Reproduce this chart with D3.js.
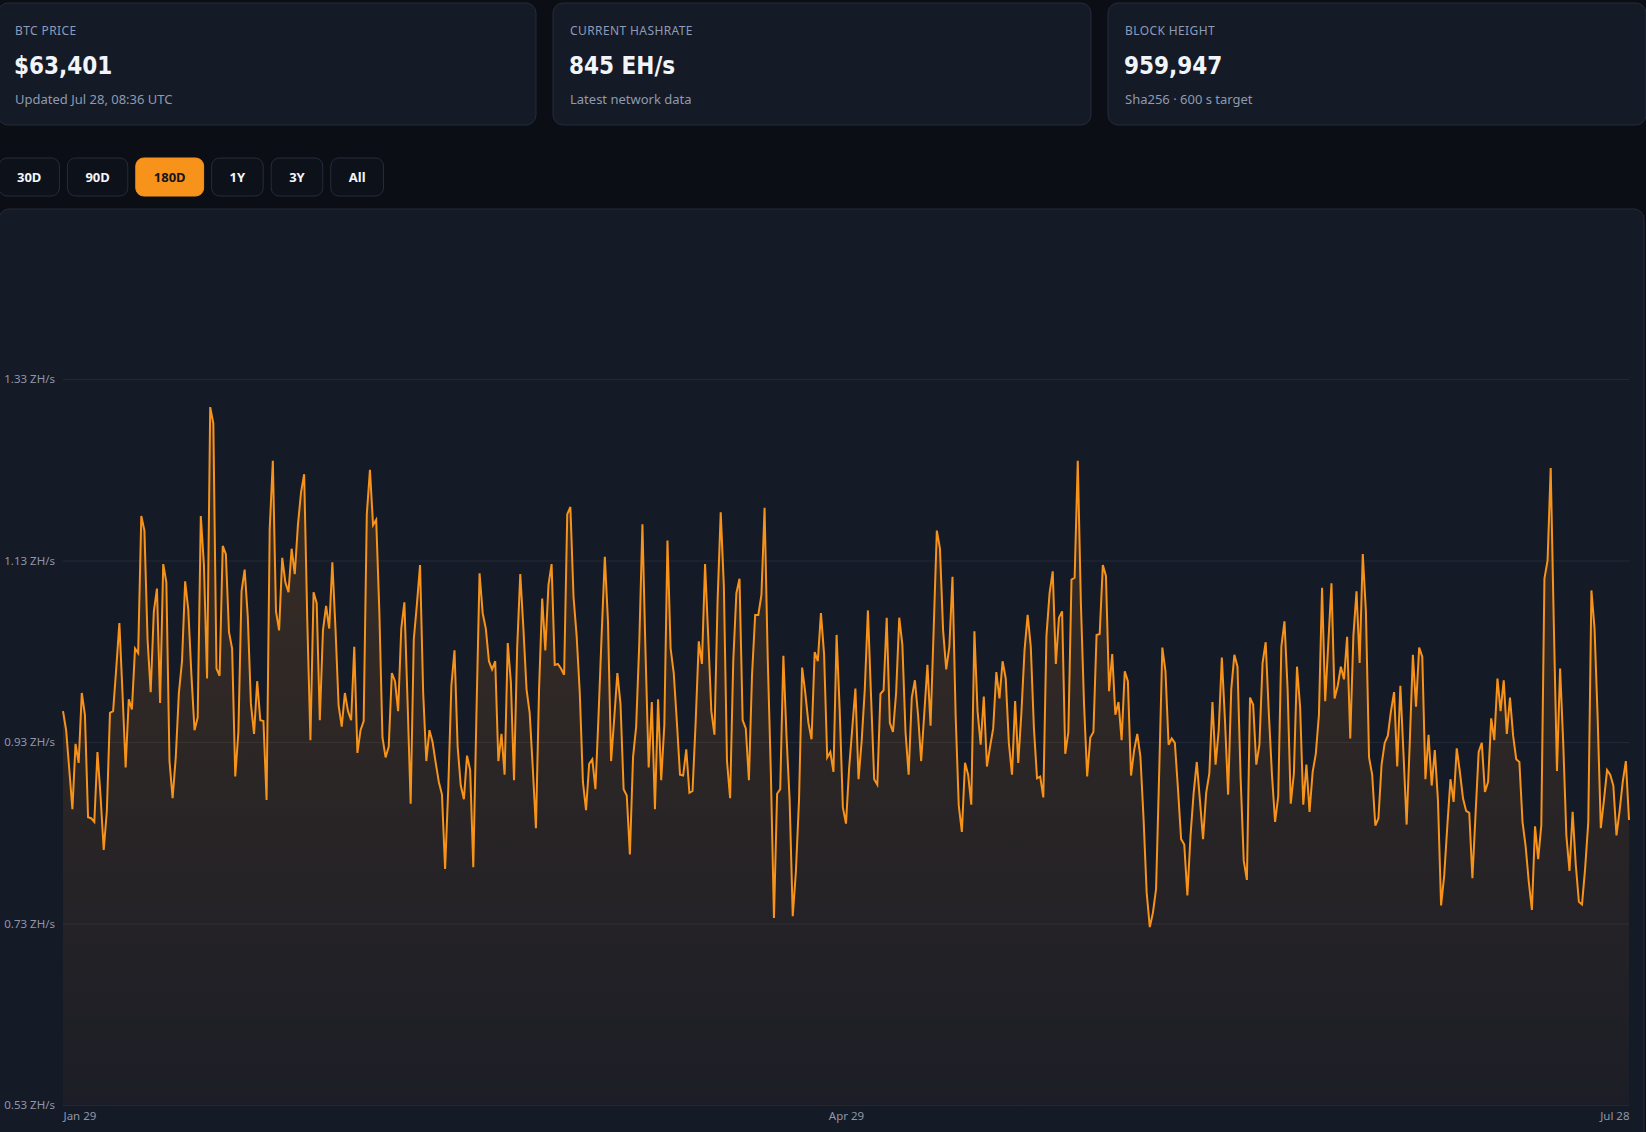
<!DOCTYPE html>
<html>
<head>
<meta charset="utf-8">
<script src="https://cdn.jsdelivr.net/npm/d3@7"></script>
<style>
html, body { margin: 0; padding: 0; background: #0b0e15; overflow: hidden; }
svg { display: block; }
</style>
</head>
<body>
<svg id="chart" width="1646" height="1132"></svg>
<script>
// stat cards
const cardLabels = ["BTC PRICE", "CURRENT HASHRATE", "BLOCK HEIGHT"];
const cardValues = ["$63,401", "845 EH/s", "959,947"];
const cardNotes = ["Updated Jul 28, 08:36 UTC", "Latest network data", "Sha256 \u00b7 600 s target"];

// range buttons
const ranges = ["30D", "90D", "180D", "1Y", "3Y", "All"];
const activeRange = "180D";

// axes
const yTicks = [0.53, 0.73, 0.93, 1.13, 1.33];
const xTickDates = ["2026-01-29", "2026-04-29", "2026-07-28"];

// network hashrate, ZH/s left to right
const hashrate = [
    0.964, 0.943, 0.900, 0.856, 0.928, 0.907, 0.984, 0.960, 0.847, 0.846, 0.842,
    0.919, 0.870, 0.811, 0.854, 0.962, 0.964, 1.011, 1.061, 0.984, 0.902,
    0.977, 0.966, 1.033, 1.028, 1.179, 1.163, 1.043, 0.985, 1.074, 1.099,
    0.973, 1.126, 1.106, 0.909, 0.868, 0.913, 0.984, 1.019, 1.107, 1.076,
    1.004, 0.943, 0.957, 1.179, 1.125, 1.000, 1.299, 1.281, 1.011, 1.003,
    1.146, 1.137, 1.051, 1.033, 0.892, 0.941, 1.096, 1.120, 1.068, 0.972,
    0.939, 0.997, 0.954, 0.953, 0.866, 1.165, 1.240, 1.074, 1.053, 1.133,
    1.106, 1.095, 1.143, 1.115, 1.169, 1.205, 1.225, 1.063, 0.932, 1.095,
    1.083, 0.954, 1.053, 1.080, 1.055,
    1.128, 1.055, 0.970, 0.947, 0.984, 0.964, 0.954, 1.035, 0.918, 0.943,
    0.953, 1.181, 1.230, 1.169, 1.175, 1.074, 0.935, 0.913, 0.925, 1.006,
    0.997, 0.964, 1.055, 1.084, 0.976, 0.862, 1.043, 1.082, 1.125, 0.984,
    0.909, 0.943, 0.930, 0.907, 0.886, 0.872, 0.790, 0.878, 0.992, 1.031,
    0.925, 0.882, 0.867, 0.915, 0.899, 0.792, 0.960, 1.116, 1.072, 1.055,
    1.019, 1.010, 1.019, 0.909, 0.939, 0.894, 1.039, 0.996, 0.888, 1.033,
    1.115, 1.055, 0.988, 0.962, 0.901, 0.835, 0.988, 1.088, 1.031, 1.103,
    1.126, 1.015, 1.016, 1.011, 1.004, 1.181, 1.189, 1.090, 1.047, 0.984,
    0.886, 0.855, 0.906, 0.911, 0.878, 0.960, 1.050,
    1.134, 1.063, 0.909, 0.956, 1.006, 0.972, 0.878, 0.871, 0.806, 0.913,
    0.947, 1.039, 1.170, 1.027, 0.902, 0.974, 0.856, 0.977, 0.888, 0.949,
    1.152, 1.033, 1.006, 0.952, 0.894, 0.893, 0.922, 0.874, 0.876, 0.952,
    1.041, 1.016, 1.126, 1.047, 0.964, 0.938, 1.086, 1.183, 1.102, 0.909,
    0.868, 1.019, 1.094, 1.110, 0.954, 0.945, 0.888, 1.004, 1.070, 1.070,
    1.092, 1.188, 1.023, 0.897, 0.736, 0.873, 0.878, 1.025, 0.937, 0.866,
    0.738, 0.787, 0.866, 1.012, 0.984, 0.951, 0.933, 1.029, 1.019, 1.072,
    1.027, 0.913, 0.919, 0.897, 1.048, 0.964, 0.858, 0.840, 0.901, 0.945,
    0.989, 0.889, 0.931, 0.988, 1.075, 0.980,
    0.889, 0.883, 0.983, 0.987, 1.067, 0.951, 0.941, 0.984, 1.067, 1.037,
    0.941, 0.894, 0.979, 0.998, 0.960, 0.909, 0.962, 1.015, 0.948, 1.055,
    1.163, 1.143, 1.053, 1.010, 1.035, 1.112, 0.960, 0.860, 0.831, 0.907,
    0.894, 0.861, 1.052, 0.964, 0.927, 0.980, 0.903, 0.925, 0.945, 1.007,
    0.978, 1.019, 1.000, 0.929, 0.894, 0.975, 0.907, 0.962, 1.031, 1.070,
    1.035, 0.945, 0.890, 0.892, 0.869, 1.047, 1.094, 1.118, 1.016, 1.067,
    1.074, 0.917, 0.941, 1.109, 1.111, 1.240, 1.082, 0.972, 0.892, 0.935,
    0.941, 1.048, 1.049, 1.125, 1.113, 0.986, 1.027, 0.960, 0.974, 0.932,
    1.008, 0.997, 0.893, 0.921, 0.939, 0.914,
    0.846, 0.764, 0.726, 0.742, 0.768, 0.897, 1.034, 1.008, 0.927, 0.934,
    0.929, 0.878, 0.823, 0.817, 0.761, 0.827, 0.874, 0.908, 0.866, 0.823,
    0.874, 0.895, 0.974, 0.905, 0.943, 1.023, 0.954, 0.872, 0.988, 1.026,
    1.013, 0.890, 0.799, 0.778, 0.979, 0.971, 0.905, 0.927, 1.017, 1.040,
    0.962, 0.894, 0.842, 0.870, 1.035, 1.063, 0.988, 0.862, 0.895, 1.013,
    0.968, 0.861, 0.905, 0.853, 0.897, 0.917, 0.960, 1.100, 0.975, 1.039,
    1.105, 0.978, 0.992, 1.013, 0.999, 1.046, 0.934, 1.047, 1.096, 1.017,
    1.137, 1.074, 0.913, 0.894, 0.838, 0.846, 0.905, 0.929, 0.937, 0.964,
    0.985, 0.903, 0.992, 0.917, 0.839,
    0.929, 1.026, 0.969, 1.034, 1.024, 0.889, 0.938, 0.882, 0.921, 0.866,
    0.750, 0.783, 0.838, 0.889, 0.864, 0.923, 0.897, 0.868, 0.854, 0.852,
    0.780, 0.850, 0.919, 0.929, 0.875, 0.886, 0.956, 0.932, 1.000, 0.964,
    0.998, 0.939, 0.979, 0.937, 0.911, 0.908, 0.842, 0.815, 0.776, 0.745,
    0.837, 0.801, 0.838, 1.110, 1.130, 1.232, 1.059, 0.898, 1.011, 0.929,
    0.827, 0.788, 0.853, 0.795, 0.754, 0.751, 0.791, 0.842, 1.097, 1.055,
    0.956, 0.835, 0.866, 0.899, 0.894, 0.882, 0.827, 0.854, 0.886, 0.909,
    0.844
];

const svg = d3.select("#chart");
const width = +svg.attr("width");
const uiFont = "'Noto Sans', 'Open Sans', sans-serif";
const numFont = "'DejaVu Sans Condensed', 'DejaVu Sans', sans-serif";
const orange = "#f7931a";

// ---- stat cards ----
const cardGap = 17;
const cardW = (width + 2 - 2 * cardGap) / 3;
const cards = svg.append("g").selectAll("g")
    .data(cardLabels)
    .join("g")
    .attr("transform", (d, i) => `translate(${-2 + i * (cardW + cardGap)}, 3)`);

cards.append("rect")
    .attr("width", cardW)
    .attr("height", 122)
    .attr("rx", 10)
    .attr("fill", "#151a27")
    .attr("stroke", "#252b3a");

cards.append("text")
    .attr("x", 17).attr("y", 32)
    .style("font", `12px ${uiFont}`)
    .style("letter-spacing", "0.4px")
    .attr("fill", "#8d9cb8")
    .text(d => d);

cards.append("text")
    .attr("x", 16).attr("y", 71)
    .style("font", `bold 24px ${numFont}`)
    .attr("fill", "#f1f4f9")
    .text((d, i) => cardValues[i]);

cards.append("text")
    .attr("x", 17).attr("y", 101)
    .style("font", `13px ${uiFont}`)
    .attr("fill", "#8e9ab0")
    .text((d, i) => cardNotes[i]);

// ---- range buttons ----
const btnG = svg.append("g").attr("transform", "translate(0, 158)");
let bx = -1;
ranges.forEach(r => {
    const active = r === activeRange;
    const b = btnG.append("g");
    const t = b.append("text")
        .attr("y", 24)
        .attr("text-anchor", "middle")
        .style("font", `bold 13px ${uiFont}`)
        .attr("fill", active ? "#14161c" : "#f3f5f9")
        .text(r);
    const w = t.node().getComputedTextLength() + 36;
    b.insert("rect", "text")
        .attr("width", w)
        .attr("height", 38)
        .attr("rx", 8)
        .attr("fill", active ? orange : "#0d1119")
        .attr("stroke", active ? orange : "#262c3b");
    t.attr("x", w / 2);
    b.attr("transform", `translate(${bx}, 0)`);
    bx += w + 8;
});

// ---- chart panel ----
svg.append("rect")
    .attr("x", -1).attr("y", 209)
    .attr("width", width - 1).attr("height", 960)
    .attr("rx", 10)
    .attr("fill", "#151a27")
    .attr("stroke", "#242a39");

const parse = d3.timeParse("%Y-%m-%d");
const tickDates = xTickDates.map(parse);
const start = tickDates[0], end = tickDates[tickDates.length - 1];
const stepMs = (end - start) / (hashrate.length - 1);
const series = hashrate.map((v, i) => ({ date: new Date(+start + i * stepMs), value: v }));

const x = d3.scaleTime().domain([start, end]).range([63, 1629]);
const y = d3.scaleLinear().domain([yTicks[0], yTicks[yTicks.length - 1]]).range([1105, 379]);

const defs = svg.append("defs");
const grad = defs.append("linearGradient")
    .attr("id", "fillGrad")
    .attr("gradientUnits", "userSpaceOnUse")
    .attr("x1", 0).attr("x2", 0)
    .attr("y1", y(1.3)).attr("y2", y(yTicks[0]));
grad.append("stop").attr("offset", 0).attr("stop-color", orange).attr("stop-opacity", 0.17);
grad.append("stop").attr("offset", 1).attr("stop-color", orange).attr("stop-opacity", 0.03);

// grid + y labels
const yAxis = svg.append("g")
    .attr("transform", `translate(${x.range()[0]}, 0)`)
    .call(d3.axisLeft(y)
        .tickValues(yTicks)
        .tickSize(-(x.range()[1] - x.range()[0]))
        .tickPadding(8)
        .tickFormat(d => d3.format(".2f")(d) + " ZH/s"));
yAxis.select(".domain").remove();
yAxis.selectAll("line").attr("stroke", "#232837");
yAxis.selectAll("text")
    .attr("fill", "#8e97aa")
    .style("font", `11.5px ${uiFont}`);

// area + line
svg.append("path")
    .datum(series)
    .attr("fill", "url(#fillGrad)")
    .attr("d", d3.area()
        .x(d => x(d.date))
        .y0(y(yTicks[0]))
        .y1(d => y(d.value)));

svg.append("path")
    .datum(series)
    .attr("fill", "none")
    .attr("stroke", orange)
    .attr("stroke-width", 2)
    .attr("d", d3.line()
        .x(d => x(d.date))
        .y(d => y(d.value)));

// x labels
const fmt = d3.timeFormat("%b %d");
const xAxis = svg.append("g")
    .attr("transform", `translate(0, ${y.range()[0]})`)
    .call(d3.axisBottom(x)
        .tickValues(tickDates)
        .tickSize(0)
        .tickPadding(7)
        .tickFormat(fmt));
xAxis.select(".domain").remove();
xAxis.selectAll("text")
    .attr("fill", "#8e97aa")
    .style("font", `11.5px ${uiFont}`)
    .attr("text-anchor", (d, i) => i === 0 ? "start" : (i === tickDates.length - 1 ? "end" : "middle"));
</script>
</body>
</html>
